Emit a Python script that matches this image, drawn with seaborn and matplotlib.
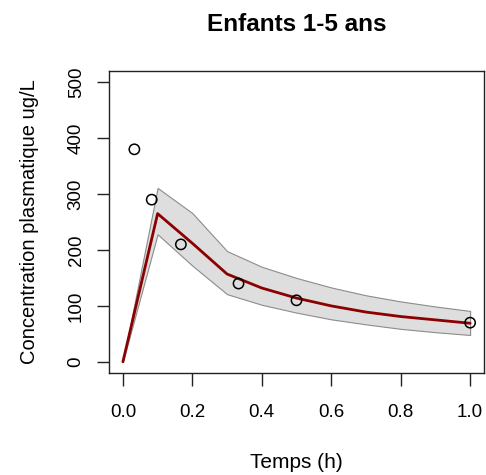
import matplotlib
matplotlib.use("Agg")
import matplotlib.pyplot as plt
import pandas as pd
import seaborn as sns

# observed concentrations (ug/L)
obs_time = [0.033, 0.083, 0.167, 0.333, 0.5, 1.0]
obs_conc = [380, 290, 210, 140, 110, 70]

# model prediction and its interval
pred_time = [0.0, 0.1, 0.2, 0.3, 0.4, 0.5, 0.6, 0.7, 0.8, 0.9, 1.0]
pred_median = [0, 265, 212, 157, 132, 114, 100, 89, 81, 75, 69]
pred_upper = [0, 311, 266, 198, 170, 150, 133, 119, 108, 99, 91]
pred_lower = [0, 228, 172, 121, 102, 88, 76, 67, 59, 53, 48]

sns.set_theme(style="ticks")
plt.rcParams['font.family'] = ['Liberation Sans', 'DejaVu Sans']
plt.rcParams['text.color'] = 'black'
plt.rcParams['axes.labelcolor'] = 'black'
plt.rcParams['xtick.color'] = 'black'
plt.rcParams['ytick.color'] = 'black'

pred = pd.DataFrame({"time": pred_time, "median": pred_median,
                     "lower": pred_lower, "upper": pred_upper})
obs = pd.DataFrame({"time": obs_time, "conc": obs_conc})

fig = plt.figure(figsize=(4.86, 4.75), dpi=100)
ax = fig.add_axes([0.2243, 0.2147, 0.7716, 0.6358])

ax.fill_between(pred["time"], pred["lower"], pred["upper"],
                facecolor="#dedede", edgecolor="#8c8c8c", linewidth=0.8, zorder=1)
sns.lineplot(data=pred, x="time", y="median", color="#8b0000", linewidth=2.0,
             ax=ax, zorder=2)
sns.scatterplot(data=obs, x="time", y="conc", s=55, facecolor="none",
                edgecolor="black", linewidth=1.1, ax=ax, zorder=3)

ax.set_xlim(-0.04, 1.04)
ax.set_ylim(-20, 520)
ax.set_xticks([0.0, 0.2, 0.4, 0.6, 0.8, 1.0])
ax.set_xticklabels(["0.0", "0.2", "0.4", "0.6", "0.8", "1.0"])
ax.set_yticks([0, 100, 200, 300, 400, 500])
ax.set_yticklabels(["0", "100", "200", "300", "400", "500"], rotation=90, va="center")

for side in ["top", "right", "bottom", "left"]:
    ax.spines[side].set_visible(True)
    ax.spines[side].set_color("#222222")
    ax.spines[side].set_linewidth(1.0)

ax.tick_params(axis="x", direction="out", length=9.5, width=1.0, pad=13,
               labelsize=13.5, color="#222222")
ax.tick_params(axis="y", direction="out", length=8.5, width=1.0, pad=9,
               labelsize=13.5, color="#222222")

ax.set_title("Enfants 1-5 ans", fontsize=17.5, fontweight="bold", pad=29)
ax.set_xlabel("Temps (h)", fontsize=15, labelpad=23)
ax.set_ylabel("Concentration plasmatique ug/L", fontsize=14.5, labelpad=21)

fig.savefig("out.png", dpi=100, facecolor="white")
